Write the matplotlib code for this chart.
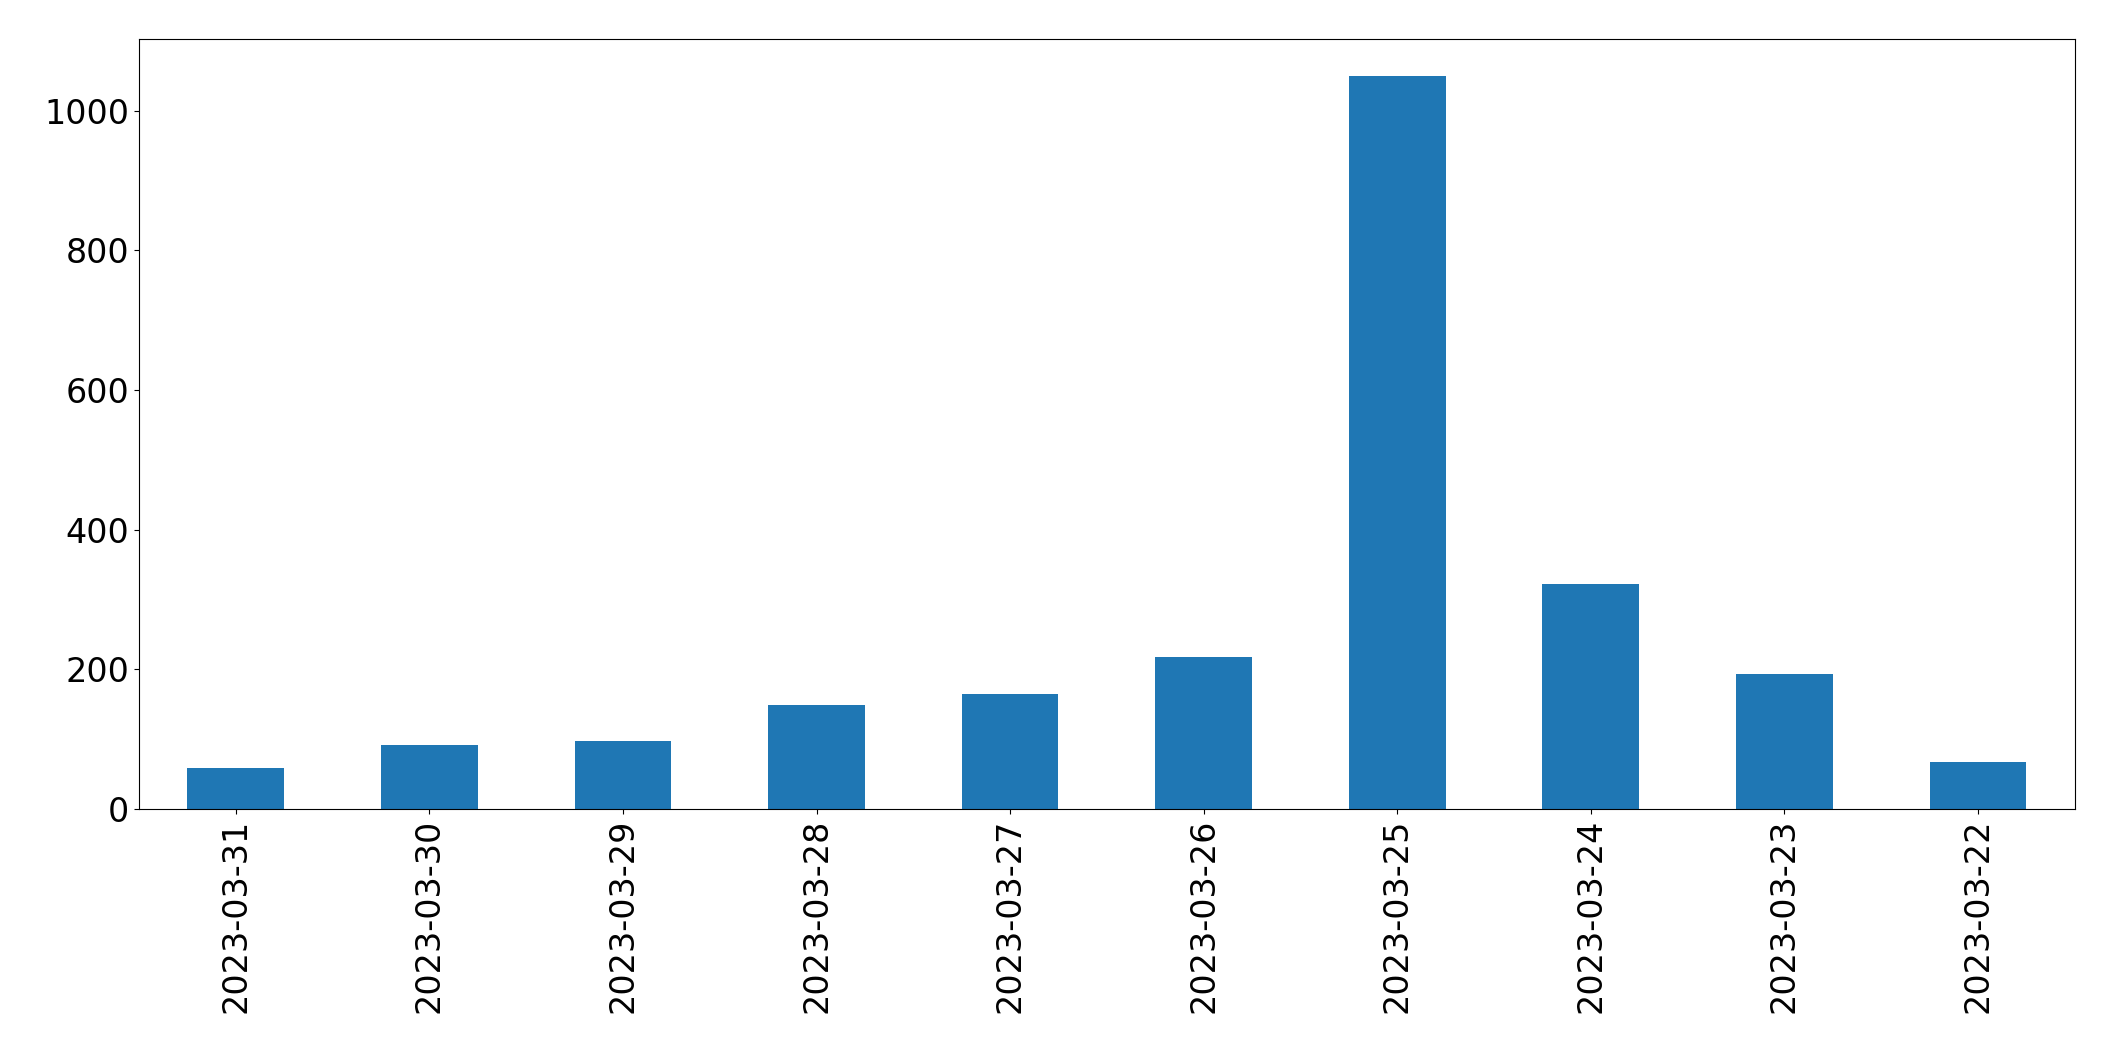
import matplotlib
matplotlib.use("Agg")
import matplotlib.pyplot as plt

dates = ["2023-03-31","2023-03-30","2023-03-29","2023-03-28","2023-03-27",
         "2023-03-26","2023-03-25","2023-03-24","2023-03-23","2023-03-22"]
values = [58, 91, 97, 149, 164, 218, 1050, 322, 193, 68]

fig = plt.figure(figsize=(21.15, 10.61), dpi=100)
ax = fig.add_axes([0.0657, 0.2375, 0.9153, 0.7255])
x = range(len(dates))
ax.bar(x, values, width=0.5, color="#1f77b4")
ax.set_xticks(list(x))
ax.set_xticklabels(dates, rotation=90)
ax.set_xlim(-0.5, len(dates) - 0.5)
ax.set_ylim(0, 1102)
ax.tick_params(labelsize=24)
fig.savefig("out.png", dpi=100)
